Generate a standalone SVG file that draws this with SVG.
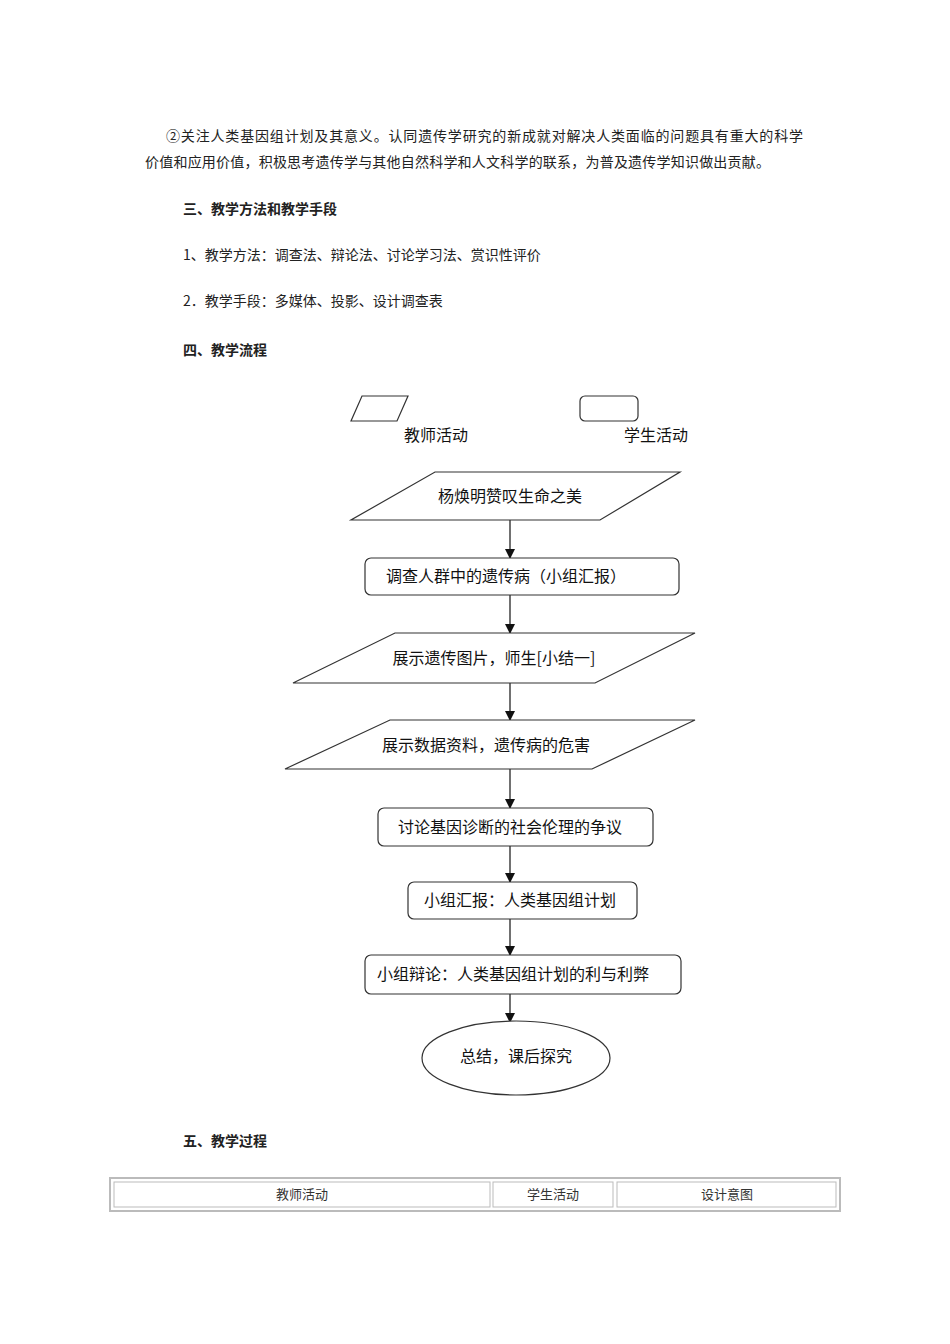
<svg xmlns="http://www.w3.org/2000/svg" width="950" height="1344" viewBox="0 0 950 1344">
<style>
.t{font-family:"Noto Sans CJK SC","Liberation Serif",serif;font-size:14px;fill:#222}
.b{font-weight:bold}
.f{font-family:"Noto Sans CJK SC","Liberation Sans",sans-serif;font-size:16px;fill:#111;text-anchor:middle}
.s{fill:#fff;stroke:#333;stroke-width:1.2}
.c{stroke:#111;stroke-width:1.2;fill:none;marker-end:url(#a)}
.tb{font-family:"Noto Sans CJK SC",serif;font-size:13px;fill:#333;text-anchor:middle}
</style>
<defs><marker id="a" markerWidth="10" markerHeight="10" refX="9" refY="5" orient="auto" markerUnits="userSpaceOnUse"><path d="M0,0 L10,5 L0,10 Z" fill="#111"/></marker></defs>
<rect width="950" height="1344" fill="#fff"/>
<g id="text">
<text class="t" x="166" y="141" textLength="637" lengthAdjust="spacing">②关注人类基因组计划及其意义。认同遗传学研究的新成就对解决人类面临的问题具有重大的科学</text>
<text class="t" x="145" y="167" textLength="625" lengthAdjust="spacing">价值和应用价值，积极思考遗传学与其他自然科学和人文科学的联系，为普及遗传学知识做出贡献。</text>
<text class="t b" x="183" y="214">三、教学方法和教学手段</text>
<text class="t" x="183" y="260">1、教学方法：调查法、辩论法、讨论学习法、赏识性评价</text>
<text class="t" x="183" y="306">2．教学手段：多媒体、投影、设计调查表</text>
<text class="t b" x="183" y="355">四、教学流程</text>
<text class="t b" x="183" y="1146">五、教学过程</text>
</g>
<g id="legend">
<polygon class="s" points="362,396 408,396 397,421 351,421"/>
<rect class="s" x="580" y="396" width="58" height="25" rx="5"/>
<text class="f" x="436" y="441">教师活动</text>
<text class="f" x="656" y="441">学生活动</text>
</g>
<g id="connectors">
<line class="c" x1="510" y1="520" x2="510" y2="558"/>
<line class="c" x1="510" y1="595" x2="510" y2="633"/>
<line class="c" x1="510" y1="683" x2="510" y2="720"/>
<line class="c" x1="510" y1="769" x2="510" y2="808"/>
<line class="c" x1="510" y1="846" x2="510" y2="882"/>
<line class="c" x1="510" y1="919" x2="510" y2="955"/>
<line class="c" x1="510" y1="994" x2="510" y2="1022"/>
</g>
<g id="n1"><polygon class="s" points="435,472 680,472 600,520 351,520"/><text class="f" x="510" y="502">杨焕明赞叹生命之美</text></g>
<g id="n2"><rect class="s" x="365" y="558" width="314" height="37" rx="6"/><text class="f" x="506" y="582">调查人群中的遗传病（小组汇报）</text></g>
<g id="n3"><polygon class="s" points="395,633 695,633 595,683 293,683"/><text class="f" x="494" y="664">展示遗传图片，师生[小结一]</text></g>
<g id="n4"><polygon class="s" points="390,720 695,720 592,769 285,769"/><text class="f" x="486" y="751">展示数据资料，遗传病的危害</text></g>
<g id="n5"><rect class="s" x="378" y="808" width="275" height="38" rx="6"/><text class="f" x="510" y="833">讨论基因诊断的社会伦理的争议</text></g>
<g id="n6"><rect class="s" x="408" y="882" width="229" height="37" rx="6"/><text class="f" x="520" y="906">小组汇报：人类基因组计划</text></g>
<g id="n7"><rect class="s" x="365" y="955" width="316" height="39" rx="6"/><text class="f" x="513" y="980">小组辩论：人类基因组计划的利与利弊</text></g>
<g id="n8"><ellipse class="s" cx="516" cy="1058" rx="94" ry="37"/><text class="f" x="516" y="1062">总结，课后探究</text></g>
<g id="table">
<rect x="110" y="1178" width="730" height="33" fill="#fff" stroke="#bbb" stroke-width="2"/>
<rect x="114" y="1182" width="376" height="25" fill="none" stroke="#bbb"/>
<rect x="493" y="1182" width="120" height="25" fill="none" stroke="#bbb"/>
<rect x="617" y="1182" width="219" height="25" fill="none" stroke="#bbb"/>
<text class="tb" x="302" y="1199">教师活动</text>
<text class="tb" x="553" y="1199">学生活动</text>
<text class="tb" x="727" y="1199">设计意图</text>
</g>
</svg>
